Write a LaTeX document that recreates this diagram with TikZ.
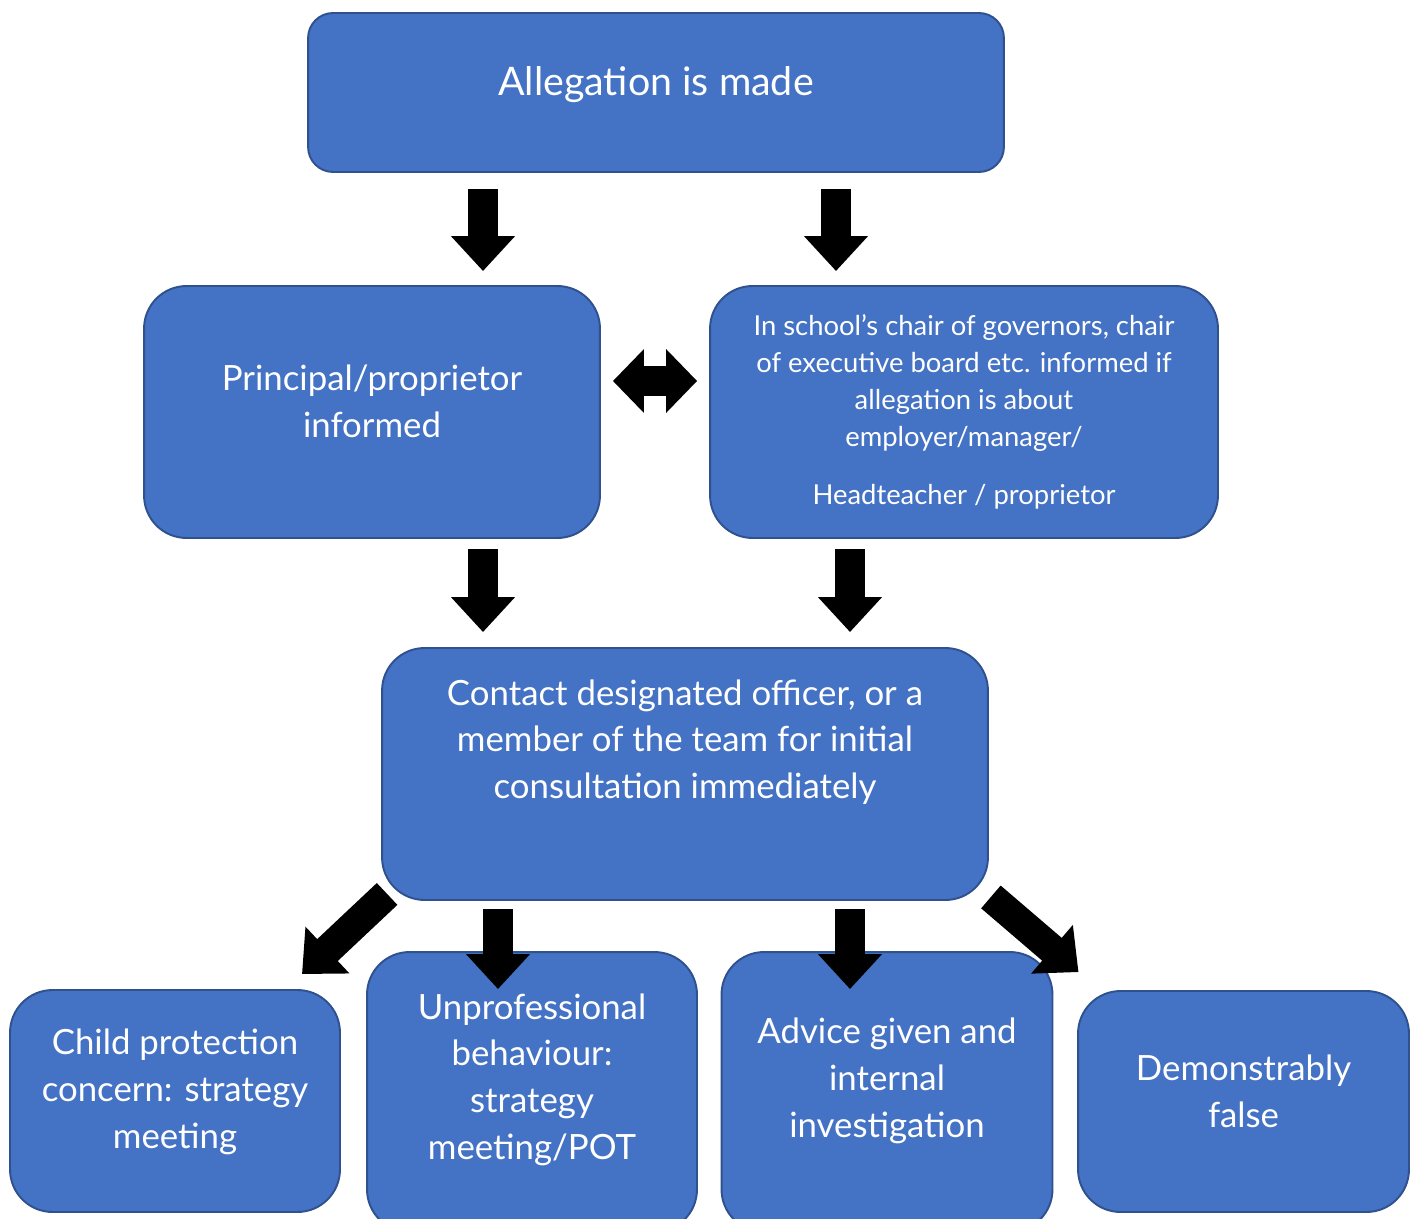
\documentclass[tikz,border=0pt]{standalone}
\usepackage{fontspec}
\setmainfont{Lato}
\usepackage{tikz}
\usetikzlibrary{arrows.meta, calc}

\definecolor{boxblue}{HTML}{4472C4}
\definecolor{boxline}{HTML}{2F528F}

\begin{document}
\begin{tikzpicture}[x=0.02cm, y=-0.02cm,
  box/.style={rectangle, rounded corners=0.85cm, draw=boxline, fill=boxblue,
              line width=1.1pt, text=white, align=center, inner sep=0pt},
  bigtxt/.style={font=\fontsize{22.4}{27}\selectfont},
  midtxt/.style={font=\fontsize{19.8}{26.6}\selectfont},
  smalltxt/.style={font=\fontsize{15.6}{21}\selectfont},
  lift/.style={text depth=#1},
  blk/.style={-{Triangle[length=0.7cm, width=1.24cm]}, line width=0.6cm, black},
  dblk/.style={{Triangle[length=0.62cm, width=1.24cm]}-{Triangle[length=0.62cm, width=1.24cm]},
               line width=0.6cm, black}]

  \useasboundingbox (0,0) rectangle (1416,1219);
  \clip (0,0) rectangle (1416,1219);

  \node[box, bigtxt, rounded corners=0.5cm, minimum width=13.92cm, minimum height=3.18cm, lift=0.45cm]
    at (656,92.5) (top) {Allegation is made};

  \node[box, midtxt, minimum width=9.12cm, minimum height=5.04cm, lift=0.44cm]
    at (372,412) (prin) {Principal/proprietor\\informed};

  \node[box, smalltxt, minimum width=10.16cm, minimum height=5.04cm]
    at (964,412) (school) {In school’s chair of governors, chair\\of executive board etc. informed if\\allegation is about\\employer/manager/\\[0.42cm]Headteacher / proprietor};

  \node[box, midtxt, minimum width=12.12cm, minimum height=5.04cm, lift=1.4cm]
    at (685,774) (contact) {Contact designated officer, or a\\member of the team for initial\\consultation immediately};

  \node[box, midtxt, minimum width=6.6cm, minimum height=4.44cm, lift=0.5cm]
    at (175,1101) (child) {Child protection\\concern: strategy\\meeting};

  \node[box, midtxt, minimum width=6.6cm, minimum height=5.6cm, lift=0.62cm]
    at (532,1092) (unprof) {Unprofessional\\behaviour:\\strategy\\meeting/POT};

  \node[box, midtxt, minimum width=6.62cm, minimum height=5.6cm, lift=0.57cm]
    at (887,1092) (advice) {Advice given and\\internal\\investigation};

  \node[box, midtxt, minimum width=6.62cm, minimum height=4.42cm, lift=0.4cm]
    at (1243.5,1101.5) (false) {Demonstrably\\false};

  \draw[blk] ($(top.south)+(-173,16)$) -- ($(prin.north)+(111,-14)$);
  \draw[blk] ($(top.south)+(180,16)$)  -- ($(school.north)+(-128,-14)$);
  \draw[dblk] ($(prin.east)+(12,-31)$) -- ($(school.west)+(-12,-31)$);
  \draw[blk] ($(prin.south)+(111,10)$)    -- ($(contact.north)+(-202,-15)$);
  \draw[blk] ($(school.south)+(-114,10)$) -- ($(contact.north)+(165,-15)$);
  \draw[blk] ($(contact.south west)+(6,-7)$) -- ($(child.north)+(127,-15)$);
  \draw[blk] ($(contact.south)+(-187,8)$) -- ($(unprof.north)+(-34,38)$);
  \draw[blk] ($(contact.south)+(165,8)$)  -- ($(advice.north)+(-37,38)$);
  \draw[blk] ($(contact.south east)+(2,-4)$) -- ($(false.north)+(-165,-18)$);

\end{tikzpicture}
\end{document}
